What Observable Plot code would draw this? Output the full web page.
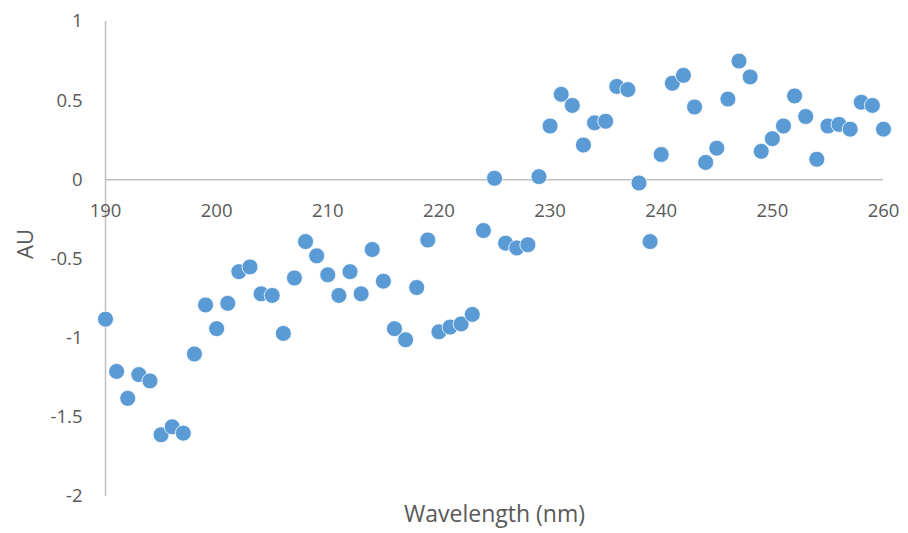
<!DOCTYPE html>
<html>
<head>
<meta charset="utf-8">
<script src="https://cdn.jsdelivr.net/npm/d3@7"></script>
<script src="https://cdn.jsdelivr.net/npm/@observablehq/plot@0.6"></script>
<style>
  html, body { margin: 0; padding: 0; background: #fff; }
  #chart svg { display: block; }
</style>
</head>
<body>
<div id="chart"></div>
<script>
const wavelengths = d3.range(190, 261);
const auValues = [
  -0.88, -1.21, -1.38, -1.23, -1.27, -1.61, -1.56, -1.60, -1.10, -0.79,
  -0.94, -0.78, -0.58, -0.55, -0.72, -0.73, -0.97, -0.62, -0.39, -0.48,
  -0.60, -0.73, -0.58, -0.72, -0.44, -0.64, -0.94, -1.01, -0.68, -0.38,
  -0.96, -0.93, -0.91, -0.85, -0.32, 0.01, -0.40, -0.43, -0.41, 0.02,
  0.34, 0.54, 0.47, 0.22, 0.36, 0.37, 0.59, 0.57, -0.02, -0.39,
  0.16, 0.61, 0.66, 0.46, 0.11, 0.20, 0.51, 0.75, 0.65, 0.18,
  0.26, 0.34, 0.53, 0.40, 0.13, 0.34, 0.35, 0.32, 0.49, 0.47,
  0.32
];
const xTicks = [190, 200, 210, 220, 230, 240, 250, 260];
const yTicks = [1, 0.5, 0, -0.5, -1, -1.5, -2];
const xTitle = "Wavelength (nm)";
const yTitle = "AU";

const data = wavelengths.map((w, i) => ({w, v: auValues[i]}));

const chart = Plot.plot({
  width: 908,
  height: 533,
  marginLeft: 105,
  marginRight: 25,
  marginTop: 21,
  marginBottom: 37,
  style: {fontFamily: "'Open Sans', Lato, sans-serif", fontSize: "18px", color: "#595959", background: "#fff"},
  x: {domain: [190, 260], axis: null},
  y: {domain: [-2, 1], axis: null},
  marks: [
    Plot.ruleX([190], {y1: -2, y2: 1, stroke: "#bfbfbf", strokeWidth: 1.5}),
    Plot.ruleY([0], {x1: 190, x2: 260, stroke: "#bfbfbf", strokeWidth: 1.5}),
    Plot.axisY(yTicks, {tickSize: 0, tickPadding: 23, tickFormat: d => String(d), fontSize: 18.5, fill: "#595959", label: null}),
    Plot.text(xTicks, {x: d => d, y: 0, dy: 31, text: d => String(d), fontSize: 18.5, fill: "#595959"}),
    Plot.dot(data, {x: "w", y: "v", r: 8, fill: "#5b9bd5", stroke: "#fff", strokeWidth: 0.8}),
    Plot.text([xTitle], {frameAnchor: "bottom", dy: 25, fontSize: 23, fill: "#595959"}),
    Plot.text([yTitle], {frameAnchor: "left", dx: -80, rotate: -90, fontSize: 22, fill: "#595959"})
  ]
});
document.getElementById("chart").appendChild(chart);
</script>
</body>
</html>
